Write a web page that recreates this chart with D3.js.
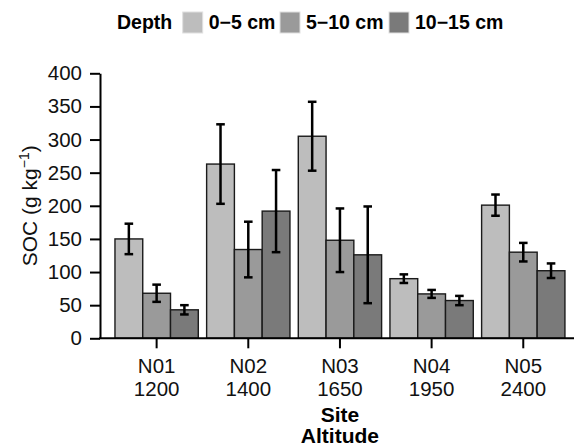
<!DOCTYPE html>
<html>
<head>
<meta charset="utf-8">
<script src="https://cdn.jsdelivr.net/npm/d3@7"></script>
<style>
  html, body { margin: 0; padding: 0; background: #fff; }
  svg { display: block; font-family: "Liberation Sans", Arial, Helvetica, sans-serif; }
</style>
</head>
<body>
<svg id="chart" width="574" height="445"></svg>
<script>
const sites = ["N01", "N02", "N03", "N04", "N05"];
const altitudes = ["1200", "1400", "1650", "1950", "2400"];
const depths = ["0\u22125 cm", "5\u221210 cm", "10\u221215 cm"];
const mean0_5 = [150, 263, 305, 90, 201];
const mean5_10 = [68, 134, 148, 67, 130];
const mean10_15 = [43, 192, 126, 57, 102];
const err0_5 = [23, 60, 52, 6.5, 16];
const err5_10 = [13, 42, 48, 6, 14];
const err10_15 = [7, 62, 73, 7, 11];
const yTicks = [0, 50, 100, 150, 200, 250, 300, 350, 400];
const fills = ["#bdbdbd", "#9a9a9a", "#7a7a7a"];

const means = [mean0_5, mean5_10, mean10_15];
const errs = [err0_5, err5_10, err10_15];
const rows = [];
sites.forEach((s, i) => depths.forEach((d, j) => rows.push({site: s, depth: d, j, v: means[j][i], e: errs[j][i]})));

const svg = d3.select("#chart");
const x = d3.scaleBand().domain(sites).range([105.8, 574.1]).paddingInner(0.091).paddingOuter(0.1);
const xi = d3.scaleBand().domain(depths).range([0, x.bandwidth()]);
const y = d3.scaleLinear().domain([0, 400]).range([338.3, 73.3]);

// bars
const g = svg.append("g");
g.selectAll("rect.bar").data(rows).join("rect")
  .attr("class", "bar")
  .attr("x", d => x(d.site) + xi(d.depth))
  .attr("y", d => y(d.v))
  .attr("width", xi.bandwidth())
  .attr("height", d => y(0) - y(d.v))
  .attr("fill", d => fills[d.j])
  .attr("stroke", "#1a1a1a")
  .attr("stroke-width", 1.4);

// error bars
const eb = g.selectAll("g.err").data(rows).join("g").attr("class", "err")
  .attr("stroke", "#000").attr("stroke-width", 2.5).attr("fill", "none");
const cx = d => x(d.site) + xi(d.depth) + xi.bandwidth() / 2;
eb.append("line").attr("x1", cx).attr("x2", cx).attr("y1", d => y(d.v + d.e)).attr("y2", d => y(d.v - d.e));
eb.append("line").attr("x1", d => cx(d) - 4.3).attr("x2", d => cx(d) + 4.3).attr("y1", d => y(d.v + d.e)).attr("y2", d => y(d.v + d.e));
eb.append("line").attr("x1", d => cx(d) - 4.3).attr("x2", d => cx(d) + 4.3).attr("y1", d => y(d.v - d.e)).attr("y2", d => y(d.v - d.e));

// y axis
const yAxis = svg.append("g").attr("transform", "translate(100,0)")
  .call(d3.axisLeft(y).tickValues(yTicks).tickSize(10).tickPadding(8).tickSizeOuter(0));
yAxis.select(".domain").attr("stroke", "#000").attr("stroke-width", 2);
yAxis.selectAll(".tick line").attr("stroke", "#000").attr("stroke-width", 2);
yAxis.selectAll(".tick text").attr("font-size", 20.5).attr("fill", "#111").attr("font-family", null);

// x axis
const xAxis = svg.append("g").attr("transform", `translate(0,${y(0)})`)
  .call(d3.axisBottom(x).tickSize(10).tickSizeOuter(0).tickFormat(() => ""));
xAxis.select(".domain").remove();
xAxis.selectAll(".tick line").attr("stroke", "#000").attr("stroke-width", 2);
xAxis.append("line").attr("x1", 99).attr("x2", 574).attr("y1", 0).attr("y2", 0)
  .attr("stroke", "#000").attr("stroke-width", 2);
xAxis.selectAll(".tick").each(function(d, i) {
  const t = d3.select(this).select("text").attr("font-size", 20.5).attr("fill", "#111").attr("font-family", null)
    .attr("y", 0).attr("dy", null);
  t.append("tspan").attr("x", 0).attr("y", 35).text(sites[i]);
  t.append("tspan").attr("x", 0).attr("y", 57.5).text(altitudes[i]);
});

// x title
const xc = (x(sites[0]) + x(sites[sites.length - 1]) + x.bandwidth()) / 2;
svg.append("text").attr("x", xc).attr("y", 421.5).attr("text-anchor", "middle")
  .attr("font-size", 21).attr("font-weight", "bold").attr("fill", "#000").text("Site");
svg.append("text").attr("x", xc).attr("y", 442.5).attr("text-anchor", "middle")
  .attr("font-size", 21).attr("font-weight", "bold").attr("fill", "#000").text("Altitude");

// y title
const yt = svg.append("text").attr("transform", `translate(37,${(y(0) + y(400)) / 2}) rotate(-90)`)
  .attr("text-anchor", "middle").attr("font-size", 21).attr("fill", "#111");
yt.append("tspan").text("SOC (g kg");
yt.append("tspan").attr("font-size", 14).attr("dy", -8).text("\u22121");
yt.append("tspan").attr("dy", 8).text(")");

// legend
const leg = svg.append("g");
leg.append("text").attr("x", 117).attr("y", 29).attr("font-size", 19.5).attr("font-weight", "bold").attr("fill", "#000").text("Depth");
const keyX = [182.7, 280, 389];
const lg = leg.selectAll("g.key").data(depths).join("g").attr("class", "key");
lg.append("rect").attr("x", (d, i) => keyX[i]).attr("y", 12).attr("width", 20).attr("height", 21)
  .attr("fill", (d, i) => fills[i]).attr("stroke", "#e0e0e0").attr("stroke-width", 1);
lg.append("text").attr("x", (d, i) => keyX[i] + 26).attr("y", 29).attr("font-size", 19.5).attr("font-weight", "bold")
  .attr("fill", "#000").text(d => d);
</script>
</body>
</html>
